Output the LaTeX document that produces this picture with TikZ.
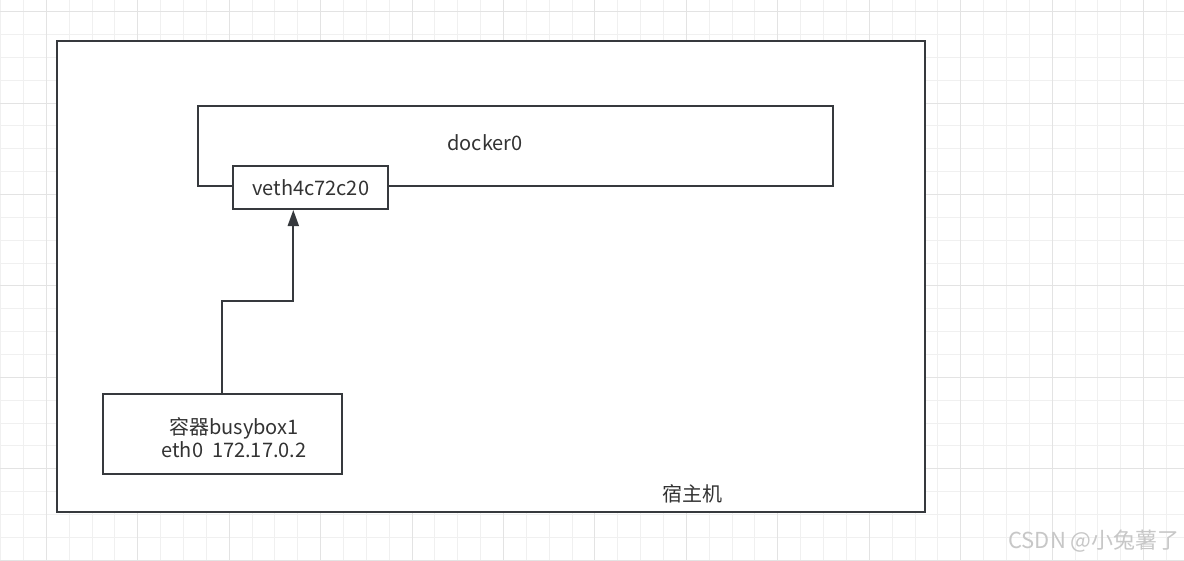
\documentclass[tikz,border=0pt]{standalone}
\usepackage{fontspec}
\setmainfont{Noto Sans CJK SC}
\usetikzlibrary{arrows.meta,positioning}
\definecolor{linegray}{HTML}{36393D}
\definecolor{textgray}{HTML}{333333}
\definecolor{gridminor}{HTML}{F0F0F0}
\definecolor{gridmajor}{HTML}{E3E3E3}
\begin{document}
\begin{tikzpicture}[x=1pt, y=-1pt, >=Stealth,
  every node/.style={font=\fontsize{20}{23}\selectfont, text=textgray},
  box/.style={draw=linegray, line width=2pt, fill=white, inner sep=0pt},
  wire/.style={draw=linegray, line width=2pt},
  minorline/.style={gridminor, line width=1pt},
  majorline/.style={gridmajor, line width=1pt}]

  \useasboundingbox (0,0) rectangle (1184,560);
  \fill[white] (0,0) rectangle (1184,560);

  % background grid
  \foreach \k in {0,...,51}
    \draw[minorline] ({0.6+\k*22.86},0) -- ({0.6+\k*22.86},560);
  \foreach \k in {0,...,24}
    \draw[minorline] (0,{11.6+\k*22.86}) -- (1184,{11.6+\k*22.86});
  \foreach \k in {0,...,12}
    \draw[majorline] ({46.3+\k*91.44},0) -- ({46.3+\k*91.44},560);
  \foreach \k in {0,...,6}
    \draw[majorline] (0,{11.6+\k*91.44}) -- (1184,{11.6+\k*91.44});

  % host machine
  \node[box, minimum width=868pt, minimum height=471pt] (host) at (491,276.5) {};
  \node (hostlabel) at (692,494) {宿主机};

  % docker0 bridge and its veth end
  \node[box, minimum width=635pt, minimum height=80pt] (docker) at (515.5,146) {};
  \node (dockerlabel) at (485,143) {docker0};
  \node[box, minimum width=155pt, minimum height=43pt] (veth) at (310.8,187.5) {veth4c72c20};

  % container
  \node[box, minimum width=239pt, minimum height=80pt] (busybox) at (222,434) {};
  \node[align=center] (busyboxlabel) at (234,438) {容器busybox1\\eth0\ \ 172.17.0.2};

  \draw[wire, -{Triangle[length=16pt,width=11pt]}] (busybox.north) -- ++(0,-92.3) -| ([xshift=-17.5pt]veth.south);

  % watermark
  \node[text=black!22, font=\fontsize{22}{24}\selectfont] (mark) at (1094,541) {CSDN @小兔薯了};
\end{tikzpicture}
\end{document}
